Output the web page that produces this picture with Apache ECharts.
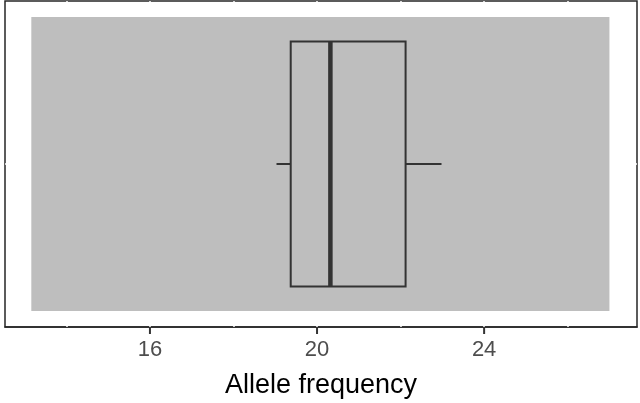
<!DOCTYPE html>
<html>
<head>
<meta charset="utf-8">
<script src="https://cdn.jsdelivr.net/npm/echarts@6/dist/echarts.min.js"></script>
<style>
html, body { margin: 0; padding: 0; background: #fff; }
#chart { width: 640px; height: 403px; }
</style>
</head>
<body>
<div id="chart"></div>
<script>
// data
var categories = ['Allele'];
var boxStats = [[19.03, 19.37, 20.32, 22.12, 22.98]]; // low, q1, median, q3, high
var bgRange = [[13.16, 27.0]];                         // grey rect xmin, xmax
var tickValues = [16, 20, 24];
var gridBreaks = [14, 16, 18, 20, 22, 24, 26];

function initChart(chartId) {
	var dom = document.getElementById(chartId);
	var myChart = echarts.init(dom);
	var option = null;

	option = {
		animation: false,
		grid: {
			left: 5,
			top: 1,
			width: 632,
			height: 326,
			outerBoundsMode: 'none',
			containLabel: false,
			show: true,
			borderColor: '#262626',
			borderWidth: 1.5,
			backgroundColor: '#fff'
		},
		xAxis: {
			type: 'value',
			min: 12.53,
			max: 27.66,
			name: 'Allele frequency',
			nameLocation: 'middle',
			nameGap: 45,
			nameTextStyle: {
				color: '#000',
				fontSize: 27,
				fontFamily: 'Liberation Sans'
			},
			axisLine: {
				show: true,
				lineStyle: { color: '#262626', width: 1.5 }
			},
			axisTick: { show: false },
			axisLabel: {
				show: true,
				customValues: tickValues,
				margin: 12,
				color: '#4d4d4d',
				fontSize: 22,
				fontFamily: 'Liberation Sans'
			},
			splitLine: { show: false }
		},
		yAxis: {
			type: 'category',
			data: categories,
			axisLine: { show: false },
			axisTick: { show: false },
			axisLabel: { show: false },
			splitLine: { show: false }
		},
		series: [{
				// white grid lines, only visible where they cross the border
				type: 'line',
				data: [],
				z: 1,
				markLine: {
					silent: true,
					z: 1,
					symbol: 'none',
					label: { show: false },
					lineStyle: { color: '#fff', width: 1.5, type: 'solid' },
					data: gridBreaks.map(function(v) { return { xAxis: v }; })
						.concat(categories.map(function(c) { return { yAxis: c }; }))
				}
			},
			{
				// grey background rectangle
				type: 'custom',
				z: 3,
				silent: true,
				data: bgRange.map(function(r, i) { return [r[0], r[1], i]; }),
				renderItem: function(params, api) {
					var p0 = api.coord([api.value(0), api.value(2)]);
					var p1 = api.coord([api.value(1), api.value(2)]);
					var band = api.size([0, 1])[1];
					var h = band * 0.902;
					return {
						type: 'rect',
						shape: { x: p0[0], y: p0[1] - h / 2, width: p1[0] - p0[0], height: h },
						style: { fill: '#bebebe' }
					};
				}
			},
			{
				// x axis tick marks under the border
				type: 'custom',
				z: 4,
				silent: true,
				clip: false,
				data: tickValues.map(function(v) { return [v, 0]; }),
				renderItem: function(params, api) {
					var x = api.coord([api.value(0), 0])[0];
					var yb = params.coordSys.y + params.coordSys.height;
					return {
						type: 'line',
						shape: { x1: x, y1: yb, x2: x, y2: yb + 7 },
						style: { stroke: '#333', lineWidth: 2 }
					};
				}
			},
			{
				// box plot
				type: 'custom',
				z: 4,
				silent: true,
				data: boxStats.map(function(b, i) { return b.concat([i]); }),
				renderItem: function(params, api) {
					var c = api.value(5);
					var lo = api.coord([api.value(0), c]);
					var q1 = api.coord([api.value(1), c]);
					var md = api.coord([api.value(2), c]);
					var q3 = api.coord([api.value(3), c]);
					var hi = api.coord([api.value(4), c]);
					var band = api.size([0, 1])[1];
					var h = band * 0.752;
					var y0 = lo[1] - h / 2;
					var st = { stroke: '#333', lineWidth: 2, fill: null };
					return {
						type: 'group',
						children: [
							{ type: 'line', shape: { x1: lo[0], y1: lo[1], x2: q1[0], y2: q1[1] }, style: st },
							{ type: 'line', shape: { x1: q3[0], y1: q3[1], x2: hi[0], y2: hi[1] }, style: st },
							{ type: 'rect', shape: { x: q1[0], y: y0, width: q3[0] - q1[0], height: h }, style: st },
							{ type: 'line', shape: { x1: md[0], y1: y0, x2: md[0], y2: y0 + h },
								style: { stroke: '#333', lineWidth: 4.5 } }
						]
					};
				}
			}
		]
	};

	if(option && typeof option === "object") {
		myChart.setOption(option, true);
	}
}

onload = function() {
	initChart('chart');
}
</script>
</body>
</html>
